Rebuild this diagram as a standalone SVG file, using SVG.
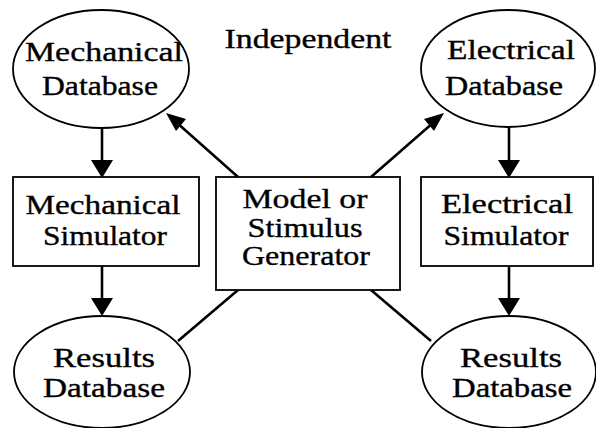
<svg xmlns="http://www.w3.org/2000/svg" width="596" height="428" viewBox="0 0 596 428">
  <defs>
    <style>
      .shape { fill: #fff; stroke: #000; stroke-width: 1.8; }
      .label { font-size: 27px; fill: #000; stroke: #000; stroke-width: 0.35; text-anchor: middle; }
      .link { stroke: #000; stroke-width: 2.6; fill: none; }
      .head { fill: #000; stroke: none; }
    </style>
  </defs>
  <rect width="596" height="428" fill="#fff"/>

  <!-- connectors -->
  <g id="connectors">
    <!-- vertical flow arrows -->
    <line class="link" x1="102" y1="128" x2="102" y2="162"/>
    <path class="head" d="M91,160 L113,160 L102,178 Z"/>
    <line class="link" x1="102" y1="266" x2="102" y2="300"/>
    <path class="head" d="M91,298 L113,298 L102,316 Z"/>
    <line class="link" x1="509" y1="127" x2="509" y2="162"/>
    <path class="head" d="M498,160 L520,160 L509,178 Z"/>
    <line class="link" x1="509" y1="266" x2="509" y2="300"/>
    <path class="head" d="M498,298 L520,298 L509,316 Z"/>
    <!-- generator to databases -->
    <line class="link" x1="238" y1="177" x2="176" y2="122"/>
    <path class="head" d="M166,113 L186,119 L176,131 Z"/>
    <line class="link" x1="371" y1="177" x2="434" y2="122"/>
    <path class="head" d="M444,113 L424,119 L434,131 Z"/>
    <!-- generator to results -->
    <line class="link" x1="238" y1="290" x2="178" y2="341"/>
    <line class="link" x1="371" y1="290" x2="431" y2="341"/>
  </g>

  <g font-family="'Liberation Serif', 'DejaVu Serif Condensed', 'DejaVu Serif', serif">
    <text class="label" x="308" y="48" textLength="167" lengthAdjust="spacingAndGlyphs">Independent</text>

    <g id="mech-db">
      <ellipse class="shape" cx="101" cy="69" rx="88" ry="59"/>
      <text class="label" x="104" y="61" textLength="158" lengthAdjust="spacingAndGlyphs">Mechanical</text>
      <text class="label" x="100" y="95" textLength="116" lengthAdjust="spacingAndGlyphs">Database</text>
    </g>

    <g id="elec-db">
      <ellipse class="shape" cx="508" cy="68.5" rx="87" ry="58.5"/>
      <text class="label" x="511" y="59" textLength="128" lengthAdjust="spacingAndGlyphs">Electrical</text>
      <text class="label" x="504" y="95" textLength="118" lengthAdjust="spacingAndGlyphs">Database</text>
    </g>

    <g id="mech-sim">
      <rect class="shape" x="13" y="177" width="186" height="89"/>
      <text class="label" x="103" y="214" textLength="155" lengthAdjust="spacingAndGlyphs">Mechanical</text>
      <text class="label" x="105" y="245" textLength="124" lengthAdjust="spacingAndGlyphs">Simulator</text>
    </g>

    <g id="generator">
      <rect class="shape" x="216" y="177" width="184" height="113"/>
      <text class="label" x="305" y="208" textLength="125" lengthAdjust="spacingAndGlyphs">Model or</text>
      <text class="label" x="305" y="237" textLength="115" lengthAdjust="spacingAndGlyphs">Stimulus</text>
      <text class="label" x="306" y="265" textLength="128" lengthAdjust="spacingAndGlyphs">Generator</text>
    </g>

    <g id="elec-sim">
      <rect class="shape" x="421" y="177" width="172" height="89"/>
      <text class="label" x="507" y="213" textLength="132" lengthAdjust="spacingAndGlyphs">Electrical</text>
      <text class="label" x="506" y="245" textLength="125" lengthAdjust="spacingAndGlyphs">Simulator</text>
    </g>

    <g id="mech-results">
      <ellipse class="shape" cx="102" cy="372" rx="88" ry="56"/>
      <text class="label" x="104" y="367" textLength="102" lengthAdjust="spacingAndGlyphs">Results</text>
      <text class="label" x="104" y="397" textLength="122" lengthAdjust="spacingAndGlyphs">Database</text>
    </g>

    <g id="elec-results">
      <ellipse class="shape" cx="509" cy="372" rx="87" ry="56"/>
      <text class="label" x="511" y="367" textLength="102" lengthAdjust="spacingAndGlyphs">Results</text>
      <text class="label" x="512" y="397" textLength="120" lengthAdjust="spacingAndGlyphs">Database</text>
    </g>
  </g>
</svg>
